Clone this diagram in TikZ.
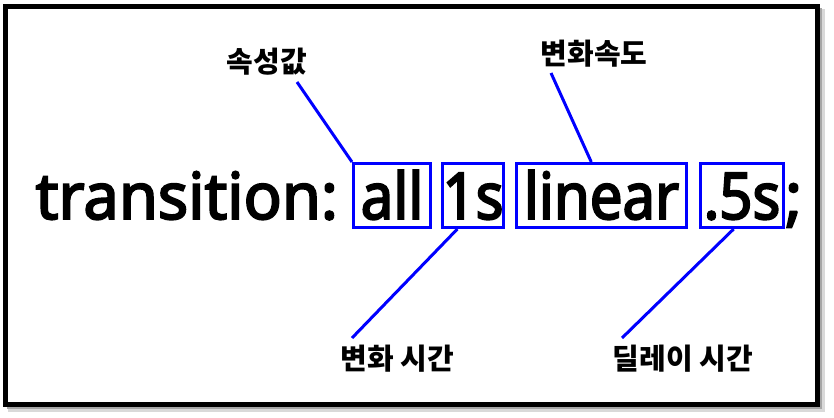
\documentclass[tikz,border=0pt]{standalone}
\usepackage{fontspec}
\setmainfont{Noto Sans CJK KR}
\newfontfamily\codefont{Noto Sans}[FakeStretch=0.9, FakeBold=3]
\newfontfamily\propfont{Noto Sans}[FakeStretch=0.98, FakeBold=3]
\usetikzlibrary{positioning}

\tikzset{
  word/.style={draw=blue, line width=3pt, inner sep=0pt, text height=55.5pt, text depth=8.5pt, font=\fontsize{64.5}{64.5}\codefont},
  plain/.style={inner sep=0pt, font=\fontsize{64.5}{64.5}\propfont},
  lbl/.style={inner sep=0pt, font=\fontsize{29}{29}\selectfont\bfseries},
  pointer/.style={blue, line width=3pt}
}

\begin{document}
\begin{tikzpicture}[x=1pt,y=-1pt]
    \useasboundingbox (0,0) rectangle (834,417);
    %% frame with shadow
    \fill[black!15] (8,9) rectangle (825,412);
    \fill[black!35] (7,8) rectangle (822,409);
    \draw[line width=5pt, fill=white] (5.5,6.5) rectangle (817.5,404.5);
    %%
    \node[word, anchor=base west, minimum width=77pt] (all) at (352,219) {all};
    \node[word, right=9pt of all, minimum width=59pt] (one) {1s};
    \node[word, right=10pt of one, minimum width=170pt] (linear) {linear};
    \node[word, right=11pt of linear, minimum width=83pt] (dly) {.5s};
    \node[plain, base left=14pt of all] (prop) {transition:};
    \node[plain, base right=0pt of dly] (semi) {;};
    %%
    \node[lbl] (lbprop) at (267,62) {속성값};
    \node[lbl] (lbfunc) at (594,54) {변화속도};
    \node[lbl] (lbtime) at (397,359) {변화 시간};
    \node[lbl] (lbdelay) at (683,359) {딜레이 시간};
    \coordinate (tprop) at (297,82);
    \coordinate (tfunc) at (551,73);
    \coordinate (ttime) at (352,338);
    \coordinate (tdelay) at (622,338);
    \draw[pointer] (tprop) -- (all.north west);
    \draw[pointer] (tfunc) -- (linear.107.4);
    \draw[pointer] (ttime) -- (one.245.9);
    \draw[pointer] (tdelay) -- (dly.256.6);
\end{tikzpicture}
\end{document}
